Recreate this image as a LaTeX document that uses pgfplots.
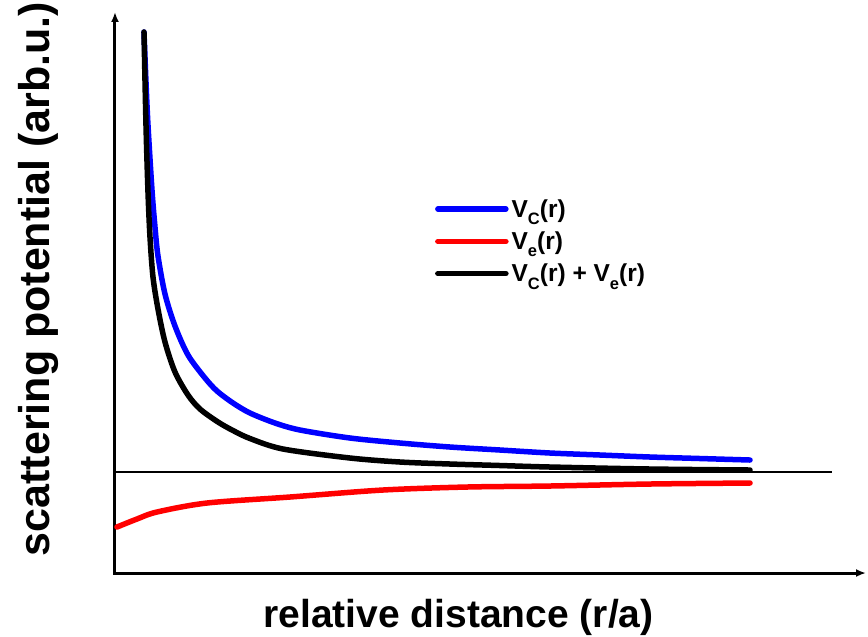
\documentclass[border=0pt]{standalone}
\usepackage{fontspec}
\setmainfont{Liberation Sans}
\usepackage{pgfplots}
\pgfplotsset{compat=1.18}
\usetikzlibrary{arrows.meta}
\newcommand{\sub}[1]{\raisebox{-0.3em}{\fontsize{16.5}{17}\selectfont #1}}
\begin{document}
\begin{tikzpicture}
\begin{axis}[
  scale only axis,
  width=751pt, height=561pt,
  xmin=115, xmax=866, ymin=-101, ymax=460,
  axis lines=left,
  axis line style={draw=none},
  xtick=\empty, ytick=\empty,
  clip=false,
  xlabel={\fontsize{39}{42}\selectfont\bfseries relative distance (r/a)},
  ylabel={\fontsize{43}{46}\selectfont\bfseries scattering potential (arb.u.)},
  xlabel style={at={(rel axis cs:0.4574,-0.0963)}, anchor=base},
  ylabel style={at={(rel axis cs:-0.0866,0.524)}, anchor=base},
  legend style={at={(rel axis cs:0.426,0.668)}, anchor=north west, draw=none, fill=none,
    font=\fontsize{24.5}{26}\selectfont\bfseries, inner sep=0pt, row sep=11pt,
    nodes={inner xsep=3pt, inner ysep=1pt}},
  legend cell align=left,
  legend image code/.code={\draw[#1, line cap=round] (0pt,0pt) -- (68pt,0pt);},
]
\addplot[black, line width=3pt, -{Latex[length=10pt,width=8pt]}, forget plot] coordinates {(115,-101)(866,-101)};
\addplot[black, line width=3pt, -{Latex[length=10pt,width=8pt]}, forget plot] coordinates {(115,-102.5)(115,460)};
\addplot[blue, line width=5.5pt, line cap=round, smooth] coordinates {
(144,440)(146,390)(148,347)(152,282)(155,245)(158,216)(165,178)(175,146)(188,117)(205,94)(217,81)(233,69)(250,59)(275,49)(300,42)(350,34)(400,29)(450,25)(500,22)(550,19)(600,17)(650,15)(700,13.5)(750,12)};
\addlegendentry{V\sub{C}(r)}
\addplot[red, line width=5.5pt, line cap=round, smooth] coordinates {
(117,-55)(137,-47)(157,-40)(207,-31)(290,-25)(383,-18)(467,-15)(550,-14)(650,-12)(750,-11)};
\addlegendentry{V\sub{e}(r)}
\addplot[black, line width=5.5pt, line cap=round, smooth] coordinates {
(144,440)(146,347)(148,280)(150,235)(153,195)(158,163)(165,130)(175,100)(188,77)(200,63)(218,50)(233,41.5)(250,33.5)(283,23)(350,14)(400,10)(450,8)(500,6.5)(550,5)(650,3)(750,2)};
\addlegendentry{V\sub{C}(r) + V\sub{e}(r)}
\addplot[black, line width=1.8pt, forget plot] coordinates {(115,0)(832,0)};
\coordinate (BL) at (rel axis cs:-0.1531,-0.1123);
\coordinate (TR) at (rel axis cs:1.00266,1.0214);
\end{axis}
\pgfresetboundingbox
\useasboundingbox (BL) rectangle (TR);
\end{tikzpicture}
\end{document}
